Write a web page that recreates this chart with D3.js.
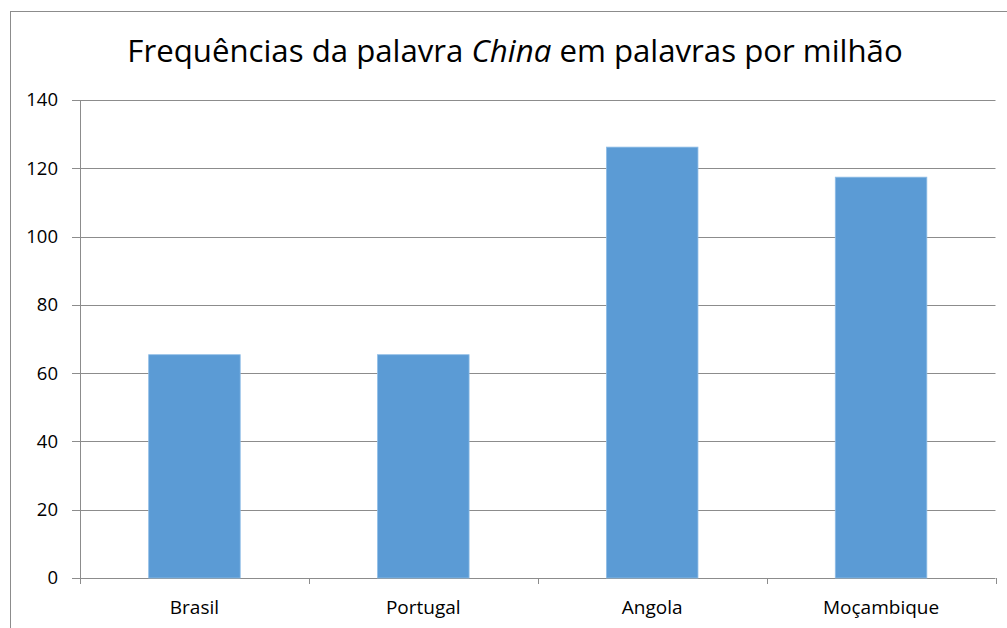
<!DOCTYPE html>
<html>
<head>
  <meta charset="utf-8">
  <script src="https://cdn.jsdelivr.net/npm/d3@7/dist/d3.min.js"></script>
  <style>
    body { margin: 0; background: #fff; }
    svg { display: block; font-family: "Open Sans", "Noto Sans", sans-serif; }
  </style>
</head>
<body>
  <svg width="1007" height="628"></svg>
  <script>
    // dados
    const categories = ["Brasil", "Portugal", "Angola", "Moçambique"];
    const values = [65.4, 65.4, 126.2, 117.4];
    const yTicks = [0, 20, 40, 60, 80, 100, 120, 140];

    const svg = d3.select("svg");
    const margin = { top: 100, left: 80 };
    const plotRight = 995.5;
    const plotBottom = 578;

    // moldura exterior
    svg.append("rect")
      .attr("x", 10.5).attr("y", 11.5)
      .attr("width", 1010).attr("height", 640)
      .attr("fill", "none")
      .attr("stroke", "#8c8c8c")
      .attr("stroke-width", 1);

    // título
    const title = svg.append("text")
      .attr("x", 515).attr("y", 62)
      .attr("text-anchor", "middle")
      .attr("font-size", 31.2)
      .attr("fill", "#000");
    title.append("tspan").text("Frequências da palavra ");
    title.append("tspan").attr("font-style", "italic").text("China");
    title.append("tspan").text(" em palavras por milhão");

    const x = d3.scaleBand()
      .domain(categories)
      .range([margin.left, plotRight])
      .paddingInner(0.6)
      .paddingOuter(0.3);

    const y = d3.scaleLinear()
      .domain([0, 140])
      .range([plotBottom, margin.top]);

    // linhas de grade
    svg.append("g")
      .selectAll("line")
      .data(yTicks)
      .join("line")
      .attr("x1", margin.left - 8)
      .attr("x2", plotRight)
      .attr("y1", d => Math.round(y(d)) + 0.5)
      .attr("y2", d => Math.round(y(d)) + 0.5)
      .attr("stroke", "#8c8c8c")
      .attr("stroke-width", 1);

    // eixo y
    svg.append("line")
      .attr("x1", margin.left + 0.5).attr("x2", margin.left + 0.5)
      .attr("y1", margin.top).attr("y2", plotBottom + 5)
      .attr("stroke", "#8c8c8c");

    svg.append("g")
      .selectAll("text")
      .data(yTicks)
      .join("text")
      .attr("x", 58)
      .attr("y", d => y(d))
      .attr("dy", "0.35em")
      .attr("text-anchor", "end")
      .attr("font-size", 18.5)
      .attr("fill", "#000")
      .text(d => d);

    // marcas do eixo x nas fronteiras das categorias
    const bounds = d3.range(categories.length + 1).map(i => margin.left + i * (plotRight - margin.left) / categories.length);
    svg.append("g")
      .selectAll("line")
      .data(bounds)
      .join("line")
      .attr("x1", d => Math.round(d) + 0.5)
      .attr("x2", d => Math.round(d) + 0.5)
      .attr("y1", plotBottom)
      .attr("y2", plotBottom + 6)
      .attr("stroke", "#8c8c8c");

    // barras
    svg.append("g")
      .selectAll("rect")
      .data(values)
      .join("rect")
      .attr("x", (d, i) => x(categories[i]))
      .attr("y", d => y(d))
      .attr("width", x.bandwidth())
      .attr("height", d => plotBottom - y(d))
      .attr("fill", "#5b9bd5")
      .attr("stroke", "#8fbde6")
      .attr("stroke-width", 0.8);

    // rótulos das categorias
    svg.append("g")
      .selectAll("text")
      .data(categories)
      .join("text")
      .attr("x", d => x(d) + x.bandwidth() / 2)
      .attr("y", 614)
      .attr("text-anchor", "middle")
      .attr("font-size", 19)
      .attr("fill", "#000")
      .text(d => d);
  </script>
</body>
</html>
